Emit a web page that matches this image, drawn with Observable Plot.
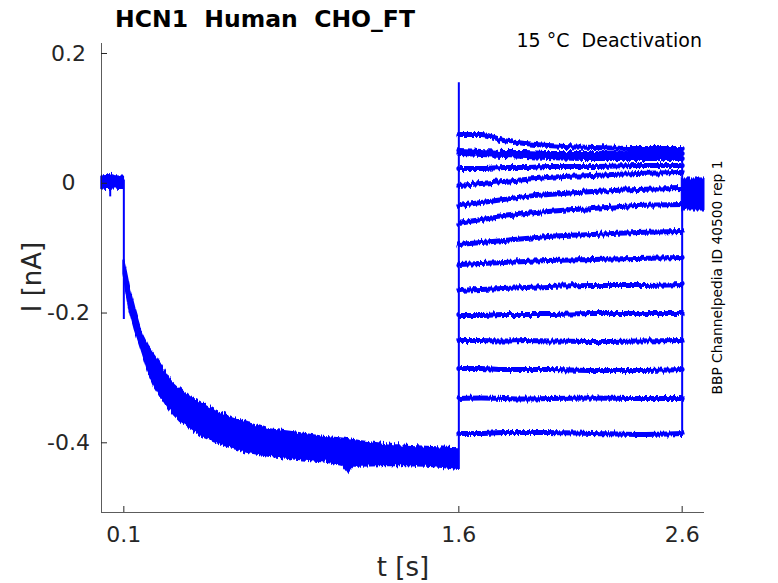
<!DOCTYPE html>
<html><head><meta charset="utf-8">
<script src="https://cdn.jsdelivr.net/npm/d3@7"></script>
<script src="https://cdn.jsdelivr.net/npm/@observablehq/plot@0.6"></script>
<style>body{margin:0;background:#fff;} #chart{width:778px;height:583px;}</style>
</head><body><div id="chart"></div>
<script>
const title = "HCN1  Human  CHO_FT";
const subtitle = "15 °C  Deactivation";
const sideNote = "BBP Channelpedia ID 40500 rep 1";
const xLabel = "t [s]";
const yLabel = "I [nA]";
const xTicks = [0.1, 1.6, 2.6];
const yTicks = [0.2, 0, -0.2, -0.4];
const xDomain = [0, 2.7];
const yDomain = [-0.5074, 0.2154];

// holding baseline before the step
const baseT  = [0.0, 0.02, 0.038, 0.040, 0.06, 0.08, 0.1];
const baseLo = [-0.009, -0.010, -0.010, -0.010, -0.009, -0.010, -0.010];
const baseHi = [0.010, 0.011, 0.010, 0.013, 0.011, 0.010, 0.010];
// short glitches and step edges (time, low, high)
const spikeT  = [0.039, 0.1, 1.6, 2.6];
const spikeLo = [-0.021, -0.210, -0.441, -0.3856];
const spikeHi = [0.005, 0.005, 0.155, 0.0536];

// activation phase: envelope of all sweeps
const actT  = [0.100, 0.105, 0.115, 0.128, 0.151, 0.181, 0.210, 0.240, 0.270, 0.307, 0.352, 0.397, 0.449, 0.508, 0.583, 0.656, 0.754, 0.857, 1.009, 1.081, 1.103, 1.126, 1.157, 1.305, 1.457, 1.528, 1.598];
const actHi = [-0.118, -0.125, -0.142, -0.165, -0.196, -0.232, -0.252, -0.266, -0.282, -0.304, -0.318, -0.330, -0.339, -0.350, -0.361, -0.370, -0.380, -0.384, -0.392, -0.394, -0.395, -0.396, -0.398, -0.404, -0.407, -0.408, -0.409];
const actLo = [-0.140, -0.150, -0.172, -0.196, -0.226, -0.258, -0.290, -0.314, -0.330, -0.350, -0.367, -0.378, -0.390, -0.399, -0.408, -0.415, -0.421, -0.425, -0.430, -0.435, -0.445, -0.436, -0.436, -0.435, -0.436, -0.438, -0.441];

// deactivation tails
const tailT = [1.6, 1.7, 1.8, 1.9, 2.0, 2.2, 2.4, 2.6];
const tail01 = [0.0752, 0.0752, 0.0660, 0.0613, 0.0583, 0.0552, 0.0536, 0.0536];
const tail02 = [0.0506, 0.0490, 0.0475, 0.0475, 0.0459, 0.0459, 0.0459, 0.0459];
const tail03 = [0.0459, 0.0444, 0.0428, 0.0413, 0.0398, 0.0382, 0.0382, 0.0382];
const tail04 = [0.0228, 0.0228, 0.0244, 0.0244, 0.0259, 0.0259, 0.0274, 0.0274];
const tail05 = [-0.0034, -0.0003, 0.0028, 0.0059, 0.0089, 0.0120, 0.0151, 0.0166];
const tail06 = [-0.0342, -0.0296, -0.0250, -0.0203, -0.0173, -0.0126, -0.0096, -0.0080];
const tail07 = [-0.0620, -0.0558, -0.0512, -0.0466, -0.0435, -0.0388, -0.0342, -0.0327];
const tail08 = [-0.0943, -0.0912, -0.0882, -0.0851, -0.0820, -0.0789, -0.0758, -0.0743];
const tail09 = [-0.1252, -0.1236, -0.1221, -0.1205, -0.1190, -0.1174, -0.1159, -0.1144];
const tail10 = [-0.1652, -0.1637, -0.1621, -0.1606, -0.1591, -0.1575, -0.1575, -0.1560];
const tail11 = [-0.2037, -0.2037, -0.2022, -0.2022, -0.2022, -0.2007, -0.2007, -0.2007];
const tail12 = [-0.2423, -0.2423, -0.2430, -0.2423, -0.2430, -0.2440, -0.2430, -0.2423];
const tail13 = [-0.2854, -0.2854, -0.2870, -0.2870, -0.2870, -0.2885, -0.2885, -0.2870];
const tail14 = [-0.3317, -0.3310, -0.3317, -0.3325, -0.3317, -0.3310, -0.3317, -0.3317];
const tail15 = [-0.3856, -0.3856, -0.3841, -0.3841, -0.3841, -0.3856, -0.3871, -0.3856];
const tails = [tail01, tail02, tail03, tail04, tail05, tail06, tail07, tail08, tail09, tail10, tail11, tail12, tail13, tail14, tail15];

// return to holding after the test pulse
const endT  = [2.6, 2.7];
const endLo = [-0.042, -0.042];
const endHi = [0.0074, 0.0074];

const blue = "#0000ff";
const ink = "#262626";
const font = "DejaVu Sans";

const baseRows = baseT.map((t, i) => ({t, lo: baseLo[i], hi: baseHi[i]}));
const spikeRows = spikeT.map((t, i) => ({t, lo: spikeLo[i], hi: spikeHi[i]}));
const actRows = actT.map((t, i) => ({t, lo: actLo[i], hi: actHi[i]}));
const endRows = endT.map((t, i) => ({t, lo: endLo[i], hi: endHi[i]}));
const tailRows = tails.flatMap((s, k) => s.map((v, i) => ({t: tailT[i], v, k})));

const plot = Plot.plot({
  width: 778, height: 583,
  marginLeft: 101, marginRight: 74, marginTop: 43, marginBottom: 71,
  style: {fontFamily: font, background: "#fff", overflow: "visible"},
  x: {domain: xDomain, axis: null},
  y: {domain: yDomain, axis: null},
  marks: [
    Plot.areaY(baseRows, {x: "t", y1: "lo", y2: "hi", fill: blue, stroke: blue, strokeWidth: 1.5}),
    Plot.areaY(actRows, {x: "t", y1: "lo", y2: "hi", fill: blue, stroke: blue, strokeWidth: 2}),
    Plot.areaY(endRows, {x: "t", y1: "lo", y2: "hi", fill: blue, stroke: blue, strokeWidth: 1}),
    Plot.line(tailRows, {x: "t", y: "v", z: "k", stroke: blue, strokeWidth: 5, curve: "monotone-x"}),
    Plot.ruleX(spikeRows, {x: "t", y1: "lo", y2: "hi", stroke: blue, strokeWidth: 2}),
    Plot.ruleX([xDomain[0]], {stroke: ink, strokeOpacity: 0.75, strokeWidth: 1}),
    Plot.ruleY([yDomain[0]], {stroke: ink, strokeOpacity: 0.75, strokeWidth: 1}),
    Plot.axisX({ticks: xTicks, tickFormat: d => String(d), tickSize: -6, tickPadding: 20, fontSize: 22, color: ink, label: null}),
    Plot.axisY({ticks: yTicks, tickFormat: d => String(d), tickSize: -6, tickPadding: 39, textAnchor: "middle", fontSize: 22, color: ink, label: null})
  ]
});

const svg = d3.select(plot);
const defs = svg.insert("defs", ":first-child");
function jitter(id, scale, freq) {
  const f = defs.append("filter").attr("id", id).attr("x", "-5%").attr("y", "-20%").attr("width", "110%").attr("height", "140%");
  f.append("feTurbulence").attr("type", "fractalNoise").attr("baseFrequency", freq).attr("numOctaves", 2).attr("seed", 4).attr("result", "n");
  f.append("feColorMatrix").attr("in", "n").attr("type", "matrix")
    .attr("values", "0 0 0 0 0.5  0 1 0 0 0  0 0 0 0 0  0 0 0 0 1").attr("result", "m");
  f.append("feDisplacementMap").attr("in", "SourceGraphic").attr("in2", "m").attr("scale", scale).attr("xChannelSelector", "R").attr("yChannelSelector", "G");
}
jitter("jitLine", 6, "0.45 0.03");
jitter("jitArea", 8, "0.6 0.03");
svg.selectAll('g[aria-label="line"]').attr("filter", "url(#jitLine)");
svg.selectAll('g[aria-label="area"]').attr("filter", "url(#jitArea)");

svg.append("text").attr("x", 265).attr("y", 27).attr("text-anchor", "middle")
  .style("font", `bold 23.5px "${font}"`).attr("fill", "#000").text(title);
svg.append("text").attr("x", 702).attr("y", 47).attr("text-anchor", "end")
  .style("font", `19px "${font}"`).attr("fill", "#000").text(subtitle);
svg.append("text").attr("transform", "translate(722,277.5) rotate(-90)").attr("text-anchor", "middle")
  .style("font", `13.8px "${font}"`).attr("fill", "#000").text(sideNote);
svg.append("text").attr("x", 403).attr("y", 576).attr("text-anchor", "middle")
  .style("font", `26px "${font}"`).attr("fill", ink).text(xLabel);
svg.append("text").attr("transform", "translate(41,277) rotate(-90)").attr("text-anchor", "middle")
  .style("font", `26px "${font}"`).attr("fill", ink).text(yLabel);

document.getElementById("chart").appendChild(plot);
</script>
</body></html>
